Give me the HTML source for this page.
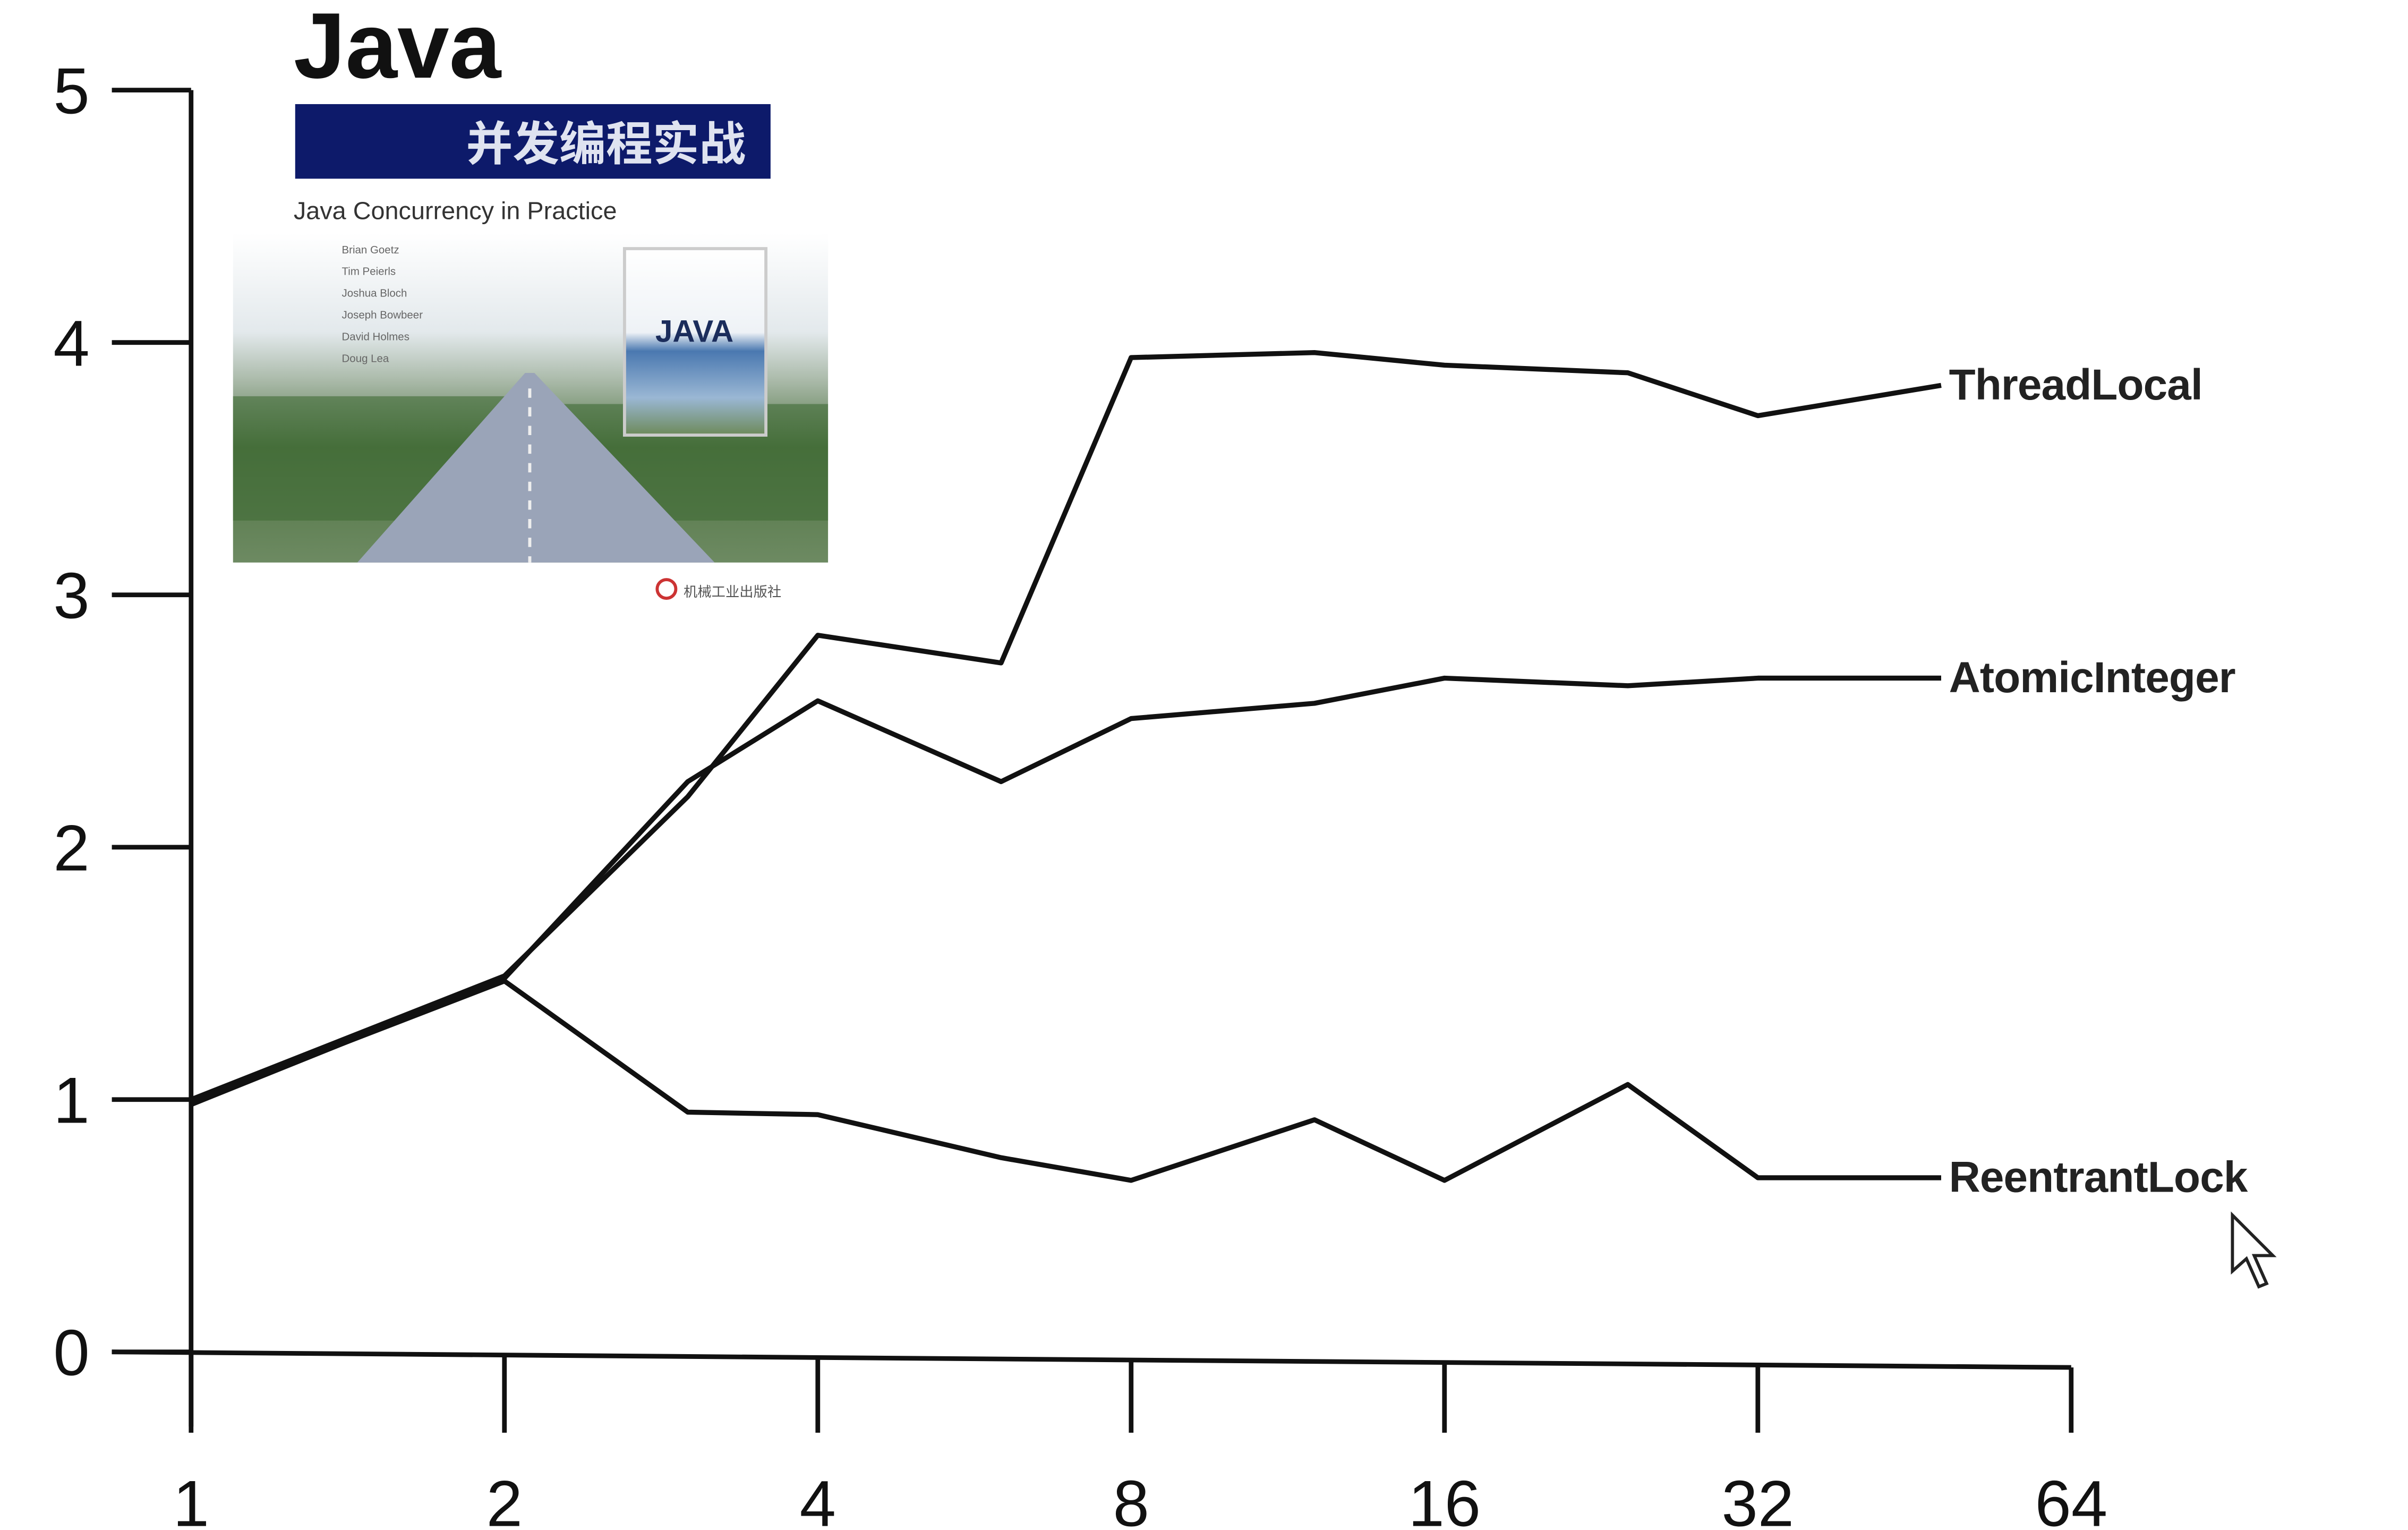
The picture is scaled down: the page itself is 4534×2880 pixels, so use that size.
<!DOCTYPE html>
<html><head><meta charset="utf-8"><style>
html,body{margin:0;padding:0;background:#fff;width:4534px;height:2880px;overflow:hidden}
svg{display:block}
</style></head><body>
<svg id="chart" width="4534" height="2880" viewBox="0 0 1550 984.6" preserveAspectRatio="none" xmlns="http://www.w3.org/2000/svg" font-family="'Liberation Sans','Noto Sans CJK SC',sans-serif">
<defs>
<linearGradient id="sky" x1="0" y1="0" x2="0" y2="1">
<stop offset="0" stop-color="#fff"/><stop offset="0.3" stop-color="#e3e9ec"/><stop offset="0.45" stop-color="#a9b9a8"/><stop offset="0.65" stop-color="#4f7442"/><stop offset="1" stop-color="#6d8a62"/>
</linearGradient>
<linearGradient id="mini" x1="0" y1="0" x2="0" y2="1">
<stop offset="0" stop-color="#fff"/><stop offset="0.45" stop-color="#eef2f6"/><stop offset="0.55" stop-color="#4a78b0"/><stop offset="0.8" stop-color="#9ab7d4"/><stop offset="1" stop-color="#6d8a5a"/>
</linearGradient>
</defs>
<g id="book">
<text x="189" y="50" font-size="60" font-weight="bold" fill="#111">Java</text>
<rect x="190" y="67" width="306" height="48" fill="#0d1a6a"/>
<text x="480" y="103" font-size="30" font-weight="bold" fill="#dfe3f0" text-anchor="end">并发编程实战</text>
<text x="189" y="141" font-size="16" fill="#333">Java Concurrency in Practice</text>
<rect x="150" y="150" width="383" height="212" fill="url(#sky)"/>
<rect x="150" y="255" width="180" height="80" fill="#3f6a36" opacity="0.6"/>
<rect x="355" y="260" width="178" height="75" fill="#3f6a36" opacity="0.6"/>
<polygon points="338,240 344,240 460,362 230,362" fill="#9aa4b8"/>
<line x1="341" y1="250" x2="341" y2="362" stroke="#eee" stroke-width="2" stroke-dasharray="6 6"/>
<g font-size="7" fill="#666"><text x="220" y="163">Brian Goetz</text><text x="220" y="177">Tim Peierls</text><text x="220" y="191">Joshua Bloch</text><text x="220" y="205">Joseph Bowbeer</text><text x="220" y="219">David Holmes</text><text x="220" y="233">Doug Lea</text></g>
<rect x="402" y="160" width="91" height="120" fill="url(#mini)" stroke="#ccc" stroke-width="2"/>
<text x="447" y="220" font-size="20" font-weight="bold" fill="#1b2d5c" text-anchor="middle">JAVA</text>
<circle cx="429" cy="379" r="6" fill="none" stroke="#c33" stroke-width="2"/>
<text x="440" y="384" font-size="9" fill="#555">机械工业出版社</text>
</g>
<g id="axes" stroke="#111" stroke-width="3" fill="none"></g>
<g id="ticklabels" font-size="42" fill="#111"></g>
<g id="series" fill="none" stroke="#111" stroke-width="3.2" stroke-linejoin="round"></g>
<g id="labels" font-size="28" font-weight="bold" fill="#222" letter-spacing="-0.3"></g>
<g><polygon points="1437,782 1437,818 1446,810 1454,828 1459,826 1451,808 1463,808" fill="#fff" stroke="#222" stroke-width="2"/></g>
</svg>
<script>
const threads = [1, 2, 3, 4, 6, 8, 12, 16, 24, 32, 48];
const threadLocal = [1.0, 1.49, 2.2, 2.84, 2.73, 3.94, 3.96, 3.91, 3.88, 3.71, 3.83];
const atomicInteger = [0.98, 1.48, 2.26, 2.58, 2.26, 2.51, 2.57, 2.67, 2.64, 2.67, 2.67];
const reentrantLock = [0.99, 1.47, 0.95, 0.94, 0.77, 0.68, 0.92, 0.68, 1.06, 0.69, 0.69];
const seriesNames = ["ThreadLocal", "AtomicInteger", "ReentrantLock"];
const xTicks = [1, 2, 4, 8, 16, 32, 64];
const yTicks = [0, 1, 2, 3, 4, 5];

const NS = "http://www.w3.org/2000/svg";
const x = v => 123 + Math.log2(v) * 201.7;
const y = v => 870 - v * 162.4;
function mk(tag, attrs, parent){const e=document.createElementNS(NS,tag);for(const k in attrs)e.setAttribute(k,attrs[k]);parent.appendChild(e);return e;}

const axes = document.getElementById('axes');
const tl = document.getElementById('ticklabels');
let ya = mk('line',{x1:x(1),y1:y(5),x2:x(1),y2:918},axes);


let xa = mk('line',{x1:72,y1:y(0),x2:x(64),y2:y(0)+10},axes);


yTicks.forEach(t=>{
  const tk = mk('line',{x1:72,y1:y(t),x2:x(1),y2:y(t)},axes);
  
  
  const lb = mk('text',{x:46,y:y(t)+15,'text-anchor':'middle'},tl);
  lb.textContent = t;
  
  
});
xTicks.forEach(t=>{
  const yy = y(0) + (x(t)-72)/(x(64)-72)*10;
  const tk = mk('line',{x1:x(t),y1:yy,x2:x(t),y2:922},axes);
  
  
  const lb = mk('text',{x:x(t),y:982,'text-anchor':'middle'},tl);
  lb.textContent = t;
  
  
});

const sg = document.getElementById('series');
const lg = document.getElementById('labels');
[threadLocal, atomicInteger, reentrantLock].forEach((vals,i)=>{
  const d = vals.map((v,j)=>(j?'L':'M')+x(threads[j]).toFixed(1)+','+y(v).toFixed(1)).join(' ');
  const p = mk('path',{d:d},sg);
  
  
  const last = vals[vals.length-1];
  const t = mk('text',{x:x(threads[threads.length-1])+5,y:y(last)+9},lg);
  t.textContent = seriesNames[i];
  
  
});
</script>
</body></html>
